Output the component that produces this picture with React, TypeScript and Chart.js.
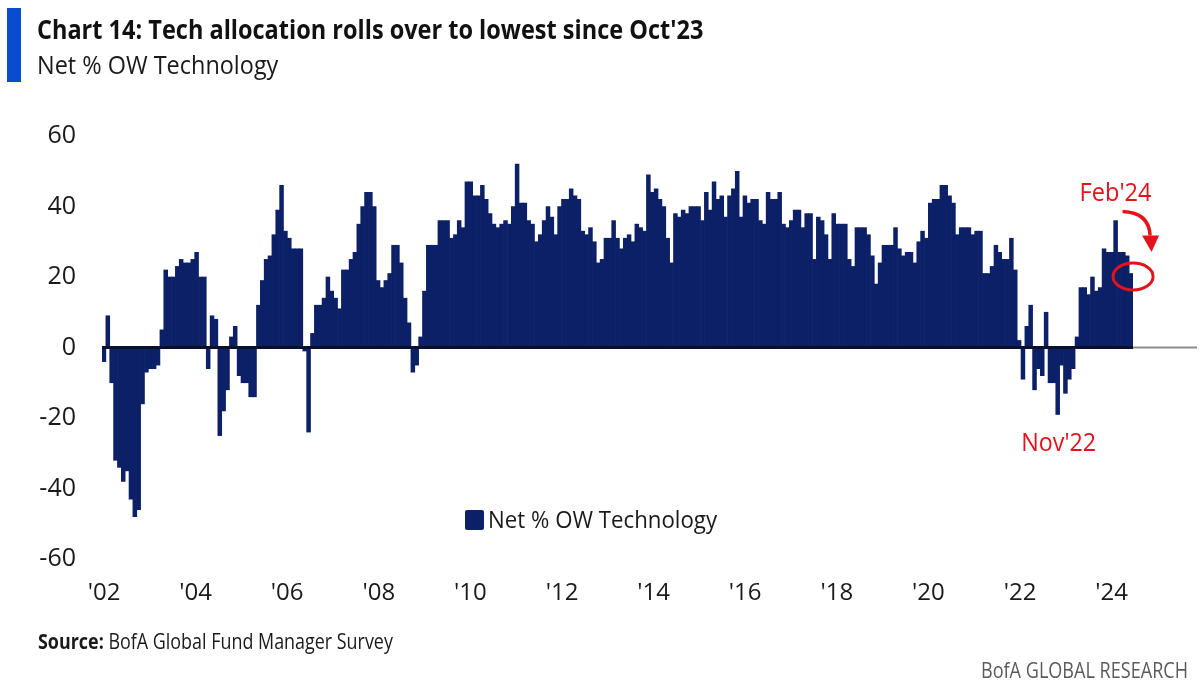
import React, { useEffect, useLayoutEffect, useRef } from "react";
import { Chart, registerables } from "chart.js";

Chart.register(...registerables);

// ---------- DATA ----------
const START_YEAR = 2001;
const START_MONTH = 11; // December (0-based) -> last bar = Feb 2024
const seriesName = "Net % OW Technology";
const netOW: number[] = [
  -4, 9, -10, -32, -34, -38, -35, -43, -48, -46,
  -16, -7, -6, -6, -5, 5, 22, 20, 20, 23,
  25, 24, 24, 25, 27, 20, 20, -6, 9, 8,
  -25, -18, -12, 3, 6, -8, -10, -10, -14, -14,
  12, 19, 25, 26, 32, 39, 46, 33, 31, 28,
  28, 28, -1, -24, 4, 12, 12, 14, 20, 16,
  14, 11, 22, 22, 25, 27, 35, 40, 44, 44,
  40, 19, 17, 19, 21, 29, 29, 24, 14, 7,
  -7, -5, 3, 16, 29, 29, 29, 36, 36, 36,
  31, 32, 36, 34, 47, 47, 43, 43, 46, 42,
  38, 35, 34, 35, 36, 35, 40, 52, 41, 41,
  36, 35, 30, 32, 36, 40, 37, 32, 40, 42,
  42, 45, 43, 42, 33, 32, 34, 30, 24, 25,
  31, 31, 36, 31, 28, 31, 32, 30, 35, 34,
  33, 49, 44, 45, 42, 40, 31, 24, 38, 37,
  39, 38, 40, 40, 40, 36, 44, 39, 47, 42,
  43, 37, 43, 45, 50, 37, 43, 41, 42, 42,
  36, 35, 44, 42, 42, 44, 35, 34, 36, 39,
  39, 34, 38, 38, 25, 37, 36, 32, 25, 38,
  35, 35, 35, 25, 23, 34, 34, 34, 32, 26,
  18, 24, 29, 29, 29, 34, 28, 26, 27, 27,
  24, 30, 33, 31, 41, 42, 42, 46, 46, 43,
  41, 32, 34, 34, 34, 32, 33, 33, 21, 21,
  23, 29, 27, 25, 25, 31, 22, 2, -9, 6,
  12, -12, -6, -8, 10, -10, -10, -19, -5, -13,
  -9, -6, 3, 17, 17, 15, 20, 16, 17, 28,
  27, 27, 36, 27, 27, 26, 21,
];
const yearTickValues = [2002, 2004, 2006, 2008, 2010, 2012, 2014, 2016, 2018, 2020, 2022, 2024];
const yearTickLabels = ["'02", "'04", "'06", "'08", "'10", "'12", "'14", "'16", "'18", "'20", "'22", "'24"];
const yTickValues = [-60, -40, -20, 0, 20, 40, 60];
const lastLabel = "Feb'24";
const lowLabel = "Nov'22";

const MONTHS = ["Jan", "Feb", "Mar", "Apr", "May", "Jun", "Jul", "Aug", "Sep", "Oct", "Nov", "Dec"];
const monthLabels = netOW.map((_, i) => {
  const m = START_MONTH + i;
  return `${MONTHS[m % 12]} ${START_YEAR + Math.floor(m / 12)}`;
});

// ---------- STYLE ----------
const FONT = "'Open Sans', 'Noto Sans', sans-serif";
const NAVY = "#0c2068";
const RED = "#e3121b";

function FitText(props: {
  left: number; capTop: number; size: number; width: number;
  weight?: number; color?: string; children: React.ReactNode;
}) {
  const { left, capTop, size, width, weight = 400, color = "#111", children } = props;
  const ref = useRef<HTMLDivElement>(null);
  useLayoutEffect(() => {
    const el = ref.current;
    if (!el) return;
    const fit = () => {
      const w = el.offsetWidth;
      if (w > 0) el.style.transform = `scaleX(${width / w})`;
    };
    fit();
    const f = (document as any).fonts;
    if (f && f.ready) f.ready.then(fit);
  }, [width]);
  return (
    <div
      ref={ref}
      style={{
        position: "absolute", left, top: capTop - 0.174 * size, fontSize: size,
        lineHeight: `${size}px`, fontWeight: weight, color, whiteSpace: "nowrap",
        fontFamily: FONT, transformOrigin: "0 0",
      }}
    >
      {children}
    </div>
  );
}

const overlayPlugin = {
  id: "overlay",
  afterDatasetsDraw(chart: any) {
    const { ctx, chartArea, scales } = chart;
    const y = scales.y;
    const y0 = y.getPixelForValue(0);
    const meta = chart.getDatasetMeta(0);
    const bars = meta.data;
    const last = bars[bars.length - 1];
    ctx.save();
    // zero line
    ctx.strokeStyle = "#8c8c8c";
    ctx.lineWidth = 2;
    ctx.beginPath();
    ctx.moveTo(chartArea.left, y0);
    ctx.lineTo(chart.width - 3, y0);
    ctx.stroke();
    ctx.strokeStyle = "#0a0f2a";
    ctx.lineWidth = 3;
    ctx.beginPath();
    ctx.moveTo(chartArea.left, y0);
    ctx.lineTo(last.x + last.width / 2, y0);
    ctx.stroke();

    // Feb'24 annotation
    const lx = last.x;
    const ly = y.getPixelForValue(netOW[netOW.length - 1]);
    ctx.strokeStyle = RED;
    ctx.fillStyle = RED;
    ctx.lineWidth = 3;
    ctx.beginPath();
    ctx.ellipse(lx + 2, ly + 3, 20, 13.5, 0, 0, Math.PI * 2);
    ctx.stroke();
    ctx.lineWidth = 3.5;
    ctx.beginPath();
    ctx.moveTo(lx - 8.5, ly - 62);
    ctx.quadraticCurveTo(lx + 18, ly - 61, lx + 19, ly - 38);
    ctx.stroke();
    ctx.beginPath();
    ctx.moveTo(lx + 11, ly - 38);
    ctx.lineTo(lx + 28, ly - 38);
    ctx.lineTo(lx + 20.5, ly - 21.5);
    ctx.closePath();
    ctx.fill();

    ctx.font = `25px ${FONT}`;
    ctx.textBaseline = "alphabetic";
    ctx.textAlign = "left";
    const drawCond = (text: string, cx: number, base: number, target: number) => {
      const w = ctx.measureText(text).width;
      const s = target / w;
      ctx.save();
      ctx.translate(cx - target / 2, base);
      ctx.scale(s, 1);
      ctx.fillText(text, 0, 0);
      ctx.restore();
    };
    drawCond(lastLabel, lx - 15.5, ly - 72, 72);

    // Nov'22 annotation at the recent low
    let minIdx = 200;
    for (let i = 200; i < netOW.length; i++) if (netOW[i] < netOW[minIdx]) minIdx = i;
    const mb = bars[minIdx];
    drawCond(lowLabel, mb.x + 1, y.getPixelForValue(netOW[minIdx]) + 37, 75);
    ctx.restore();
  },
};

export default function App() {
  const canvasRef = useRef<HTMLCanvasElement>(null);
  useEffect(() => {
    if (!canvasRef.current) return;
    const chart = new Chart(canvasRef.current, {
      type: "bar",
      data: {
        labels: monthLabels,
        datasets: [
          {
            label: seriesName,
            data: netOW,
            backgroundColor: NAVY,
            borderWidth: 0,
            barPercentage: 1,
            categoryPercentage: 1,
            xAxisID: "x",
          },
        ],
      },
      options: {
        responsive: false,
        animation: false,
        events: [],
        layout: { padding: { top: 136, right: 67, bottom: 0, left: 0 } },
        plugins: { legend: { display: false }, tooltip: { enabled: false }, title: { display: false } },
        scales: {
          x: { type: "category", display: false, offset: true },
          xYears: {
            type: "linear",
            position: "bottom",
            offset: false,
            min: 2001.956,
            max: 2024.467,
            afterBuildTicks: (scale: any) => {
              scale.ticks = yearTickValues.map((v) => ({ value: v }));
            },
            afterFit: (scale: any) => {
              scale.height = 138;
            },
            grid: { display: false, drawTicks: false, offset: false },
            border: { display: false },
            ticks: {
              autoSkip: false,
              maxRotation: 0,
              padding: 20,
              color: "#1a1a1a",
              font: { family: FONT, size: 24 },
              callback: (v: any) => {
                const i = yearTickValues.indexOf(Number(v));
                return i >= 0 ? yearTickLabels[i] : "";
              },
            },
          },
          y: {
            min: -60,
            max: 60,
            afterBuildTicks: (scale: any) => {
              scale.ticks = yTickValues.map((v) => ({ value: v }));
            },
            afterFit: (scale: any) => {
              scale.width = 102;
            },
            grid: { display: false, drawTicks: false },
            border: { display: false },
            ticks: {
              padding: 26,
              color: "#1a1a1a",
              font: { family: FONT, size: 25 },
            },
          },
        },
      } as any,
      plugins: [overlayPlugin],
    });
    return () => chart.destroy();
  }, []);

  return (
    <div style={{ position: "absolute", left: 0, top: 0, width: 1200, height: 697, background: "#fff", overflow: "hidden" }}>
      <canvas ref={canvasRef} width={1200} height={697} style={{ position: "absolute", left: 0, top: 0, width: 1200, height: 697 }} />
      <div style={{ position: "absolute", left: 7, top: 8, width: 14, height: 74, background: "#0a4ccf" }} />
      <FitText left={37} capTop={20} size={27} width={666} weight={700} color="#111">
        Chart 14: Tech allocation rolls over to lowest since Oct'23
      </FitText>
      <FitText left={37} capTop={56} size={25} width={241} color="#1a1a1a">
        Net % OW Technology
      </FitText>
      <div style={{ position: "absolute", left: 465, top: 510, width: 19, height: 20, background: NAVY, borderRadius: 2 }} />
      <FitText left={488} capTop={511} size={24} width={229} color="#1a1a1a">
        {seriesName}
      </FitText>
      <FitText left={38} capTop={633} size={22} width={355} color="#1a1a1a">
        <b>Source:</b> BofA Global Fund Manager Survey
      </FitText>
      <FitText left={981} capTop={662} size={22} width={207} color="#5a5a5a">
        BofA GLOBAL RESEARCH
      </FitText>
    </div>
  );
}
